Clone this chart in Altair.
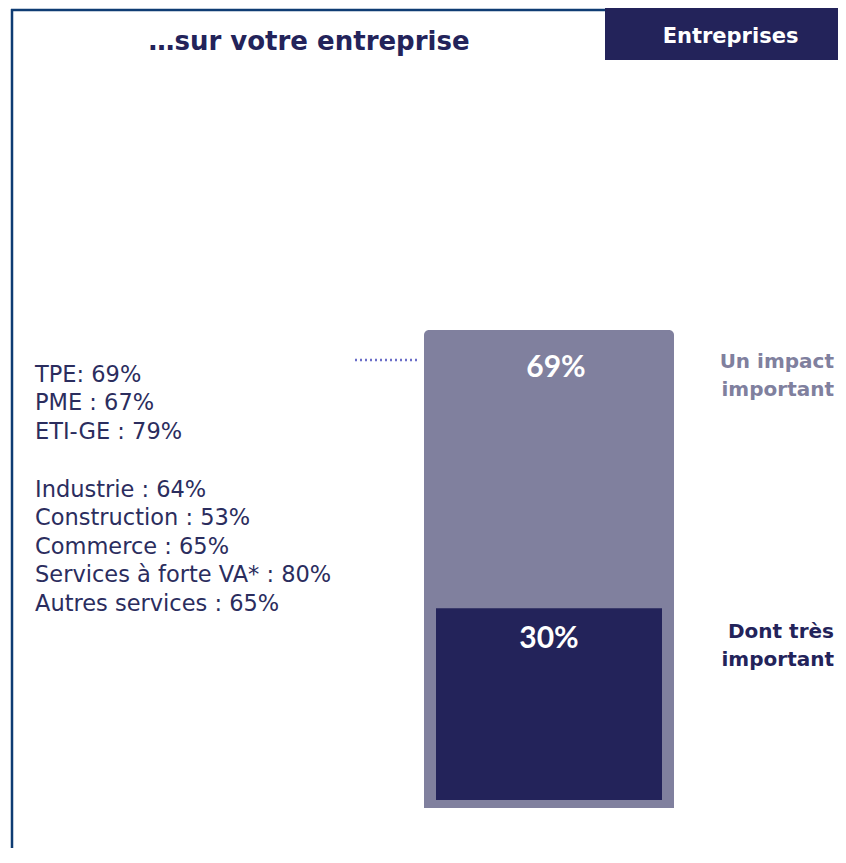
import altair as alt
import pandas as pd

# ---- data ----
title_text = "…sur votre entreprise"
badge_text = "Entreprises"
size_labels = ["TPE:", "PME :", "ETI-GE :"]
size_values = [69, 67, 79]
sector_labels = ["Industrie :", "Construction :", "Commerce :", "Services à forte VA* :", "Autres services :"]
sector_values = [64, 53, 65, 80, 65]
bar_category = "Entreprises"
bar_labels = ["Un impact\nimportant", "Dont très\nimportant"]
bar_values = [69, 30]

# ---- styles ----
W, H = 830, 840
NAVY = "#23235a"
GREY = "#80809e"
BORDER = "#0f3c73"
TEXT = "#2b2d5e"
DOT = "#6a6ec8"
FONT = "DejaVu Sans"

size_lines = [f"{l} {v}%" for l, v in zip(size_labels, size_values)]
sector_lines = [f"{l} {v}%" for l, v in zip(sector_labels, sector_values)]
size_df = pd.DataFrame({"txt": ["\n".join(size_lines)]})
sector_df = pd.DataFrame({"txt": ["\n".join(sector_lines)]})
title_df = pd.DataFrame({"txt": [title_text]})
badge_df = pd.DataFrame({"txt": [badge_text]})

bars = pd.DataFrame({
    "cat": [bar_category] * len(bar_values),
    "label": bar_labels,
    "value": bar_values,
    "pct": [f"{v}%" for v in bar_values],
})
outer = bars.iloc[[0]]
inner = bars.iloc[[1]]

xs = alt.Scale(type="band", range=[416, 666], paddingInner=0, paddingOuter=0)
ys = alt.Scale(domain=[-5.774, 115.48], nice=False, zero=False)
X = alt.X("cat:N", scale=xs, axis=None)
Y = alt.Y("value:Q", scale=ys, axis=None)

border_left = alt.Chart(title_df).mark_rule(color=BORDER, strokeWidth=2.5).encode(
    x=alt.value(4), y=alt.value(1), y2=alt.value(H))
border_top = alt.Chart(title_df).mark_rule(color=BORDER, strokeWidth=2.5).encode(
    x=alt.value(3), x2=alt.value(597), y=alt.value(2))

badge = alt.Chart(badge_df).mark_rect(color=NAVY).encode(
    x=alt.value(597), x2=alt.value(W), y=alt.value(0), y2=alt.value(52))
badge_txt = alt.Chart(badge_df).mark_text(
    font=FONT, fontWeight="bold", fontSize=21, color="white", align="center", baseline="alphabetic"
).encode(x=alt.value(722.5), y=alt.value(35), text="txt:N")

title = alt.Chart(title_df).mark_text(
    font=FONT, fontWeight="bold", fontSize=26, color=NAVY, align="center", baseline="alphabetic"
).encode(x=alt.value(301), y=alt.value(42), text="txt:N")

size_txt = alt.Chart(size_df).mark_text(
    font=FONT, fontSize=22.5, color=TEXT, align="left", baseline="alphabetic",
    lineBreak="\n", lineHeight=28.4
).encode(x=alt.value(27), y=alt.value(374), text="txt:N")

sector_txt = alt.Chart(sector_df).mark_text(
    font=FONT, fontSize=22.5, color=TEXT, align="left", baseline="alphabetic",
    lineBreak="\n", lineHeight=28.4
).encode(x=alt.value(27), y=alt.value(489), text="txt:N")

outer_bar = alt.Chart(outer).mark_bar(
    color=GREY, cornerRadiusTopLeft=5, cornerRadiusTopRight=5
).encode(x=X, y=Y, y2=alt.datum(0))

inner_bar = alt.Chart(inner).mark_bar(
    color=NAVY, width=226, yOffset=8, y2Offset=-8
).encode(x=X, y=Y, y2=alt.datum(0))

pct_outer = alt.Chart(outer).mark_text(
    font="Lato", fontWeight="bold", fontSize=30, color="white", align="center",
    baseline="alphabetic", dy=47.5, dx=7
).encode(x=X, y=Y, text="pct:N")

pct_inner = alt.Chart(inner).mark_text(
    font="Lato", fontWeight="bold", fontSize=30, color="white", align="center",
    baseline="alphabetic", dy=47.5
).encode(x=X, y=Y, text="pct:N")

side_txt = alt.Chart(bars).mark_text(
    font=FONT, fontWeight="bold", fontSize=20, align="right", baseline="alphabetic",
    lineBreak="\n", lineHeight=28, dy=38
).encode(
    x=alt.value(826), y=Y, text="label:N",
    color=alt.Color("label:N", scale=alt.Scale(domain=bar_labels, range=[GREY, NAVY]), legend=None),
)

dots = alt.Chart(outer).mark_rule(
    color=DOT, strokeWidth=2.5, strokeDash=[2, 3], yOffset=30
).encode(x=alt.value(347), x2=alt.value(409), y=Y)

chart = alt.layer(
    border_left, border_top, badge, badge_txt, title, size_txt, sector_txt,
    outer_bar, inner_bar, pct_outer, pct_inner, side_txt, dots
).properties(
    width=W, height=H, padding=0, autosize=alt.AutoSizeParams(type="none")
).configure_view(strokeWidth=0)

chart.save("out.html", embed_options={"renderer": "svg", "actions": False})
